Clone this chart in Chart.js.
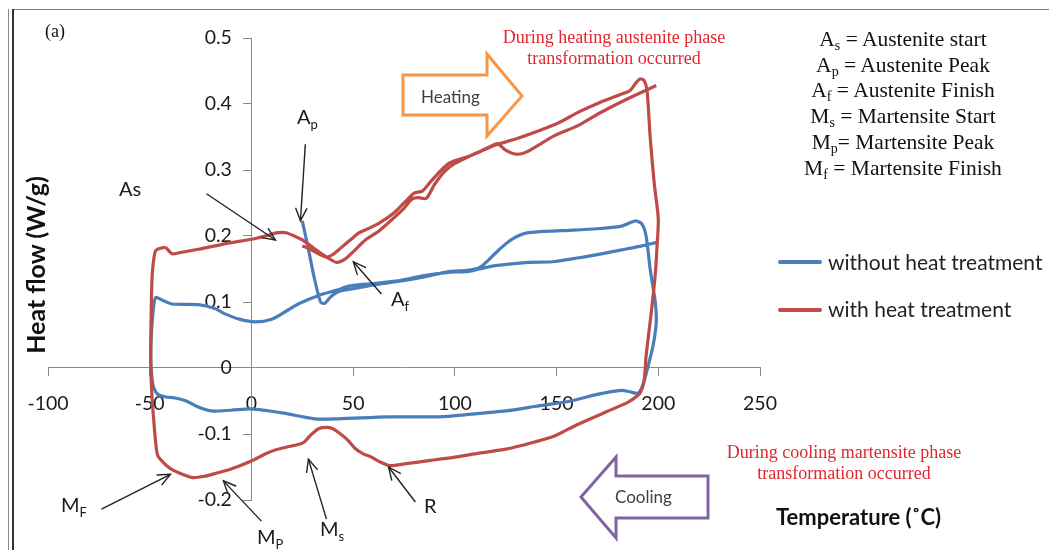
<!DOCTYPE html>
<html>
<head>
<meta charset="utf-8">
<script src="https://cdn.jsdelivr.net/npm/chart.js@4.4.1/dist/chart.umd.min.js"></script>
<style>
  html, body { margin:0; padding:0; background:#fff; }
  #wrap { position:relative; width:1049px; height:550px; overflow:hidden; background:#fff; }
  #c { position:absolute; left:0; top:0; }
  .t { position:absolute; white-space:nowrap; }
  .lab { font-family: Lato, "Open Sans", sans-serif; font-size:20px; color:#1a1a1a; }
  .lab sub { font-size:13px; vertical-align:-5px; line-height:0; }
  .serif { font-family: "Liberation Serif", "DejaVu Serif", serif; }
  .red { color:#e3262d; font-size:18px; text-align:center; line-height:21px; }
  .defs { font-size:21.5px; color:#111; text-align:center; line-height:25.7px; }
  .defs sub { font-size:14px; vertical-align:-4px; line-height:0; }
  .leg { font-family: Lato, sans-serif; font-size:21px; color:#222; }
  .legline { position:absolute; width:44px; height:4px; border-radius:2px; }
  .ttl { font-family: Lato, sans-serif; font-weight:bold; color:#111; }
</style>
</head>
<body>
<div id="wrap">
  <!-- outer frame -->
  <div style="position:absolute;left:12px;top:9px;width:1037px;height:1px;background:#7a7a7a"></div>
  <div style="position:absolute;left:8px;top:9px;width:1px;height:541px;background:#8a8a8a"></div>
  <div style="position:absolute;left:12px;top:9px;width:2px;height:541px;background:#333"></div>

  <canvas id="c" width="1049" height="550"></canvas>

  <svg width="1049" height="550" style="position:absolute;left:0;top:0;pointer-events:none">
    <polygon points="403,75 487,75 487,54 522,96 487,136 487,115 403,115" fill="#fff" stroke="#F79646" stroke-width="3" stroke-linejoin="miter"/>
    <polygon points="708,476 616,476 616,457 581,497 616,538 616,518 708,518" fill="#fff" stroke="#8064A2" stroke-width="3" stroke-linejoin="miter"/>
  </svg>

  <div class="t lab" style="left:421px;top:86px;font-size:17px;color:#404040">Heating</div>
  <div class="t lab" style="left:615px;top:486px;font-size:17px;color:#404040">Cooling</div>

  <div class="t serif" style="left:45px;top:21px;font-size:18px;color:#111">(a)</div>

  <div class="t serif red" style="left:474px;top:27px;width:280px">During heating austenite phase<br>transformation occurred</div>
  <div class="t serif red" style="left:704px;top:442px;width:280px">During cooling martensite phase<br>transformation occurred</div>

  <div class="t serif defs" style="left:758px;top:27px;width:290px">
    A<sub>s</sub> = Austenite start<br>
    A<sub>p</sub> = Austenite Peak<br>
    A<sub>f</sub> = Austenite Finish<br>
    M<sub>s</sub> = Martensite Start<br>
    M<sub>p</sub>= Martensite Peak<br>
    M<sub>f</sub> = Martensite Finish
  </div>

  <div class="legline" style="left:778px;top:260px;background:#4A7EBB"></div>
  <div class="t leg" style="left:828px;top:249px">without heat treatment</div>
  <div class="legline" style="left:778px;top:308px;background:#BE4B48"></div>
  <div class="t leg" style="left:828px;top:296px">with heat treatment</div>

  <div class="t lab" style="left:119px;top:176px">As</div>
  <div class="t lab" style="left:297px;top:104px">A<sub>p</sub></div>
  <div class="t lab" style="left:391px;top:286px">A<sub>f</sub></div>
  <div class="t lab" style="left:61px;top:492px">M<sub>F</sub></div>
  <div class="t lab" style="left:257px;top:524px">M<sub>P</sub></div>
  <div class="t lab" style="left:320px;top:516px">M<sub>s</sub></div>
  <div class="t lab" style="left:424px;top:493px">R</div>

  <div class="t ttl" style="left:776px;top:503px;font-size:22px">Temperature (˚C)</div>
  <div class="t ttl" style="left:-65px;top:250px;width:200px;text-align:center;font-size:25px;transform:rotate(-90deg)">Heat flow (W/g)</div>
</div>

<script>
// ---- data (Temperature °C, Heat flow W/g) ----
const blueT = [25, 28, 31, 34, 36, 39, 43, 50, 60, 72, 85, 97, 106, 112,
  117, 122, 128, 136, 152, 170, 182, 186, 189, 192, 194, 196, 198.5, 199, 197.5, 195, 192.5, 190,
  186, 182, 170, 157, 140, 125, 108, 92, 67, 43, 31, 15, 0, -10, -20, -27, -32, -38, -42, -46, -48, -49, -49.5,
  -49, -48, -47, -44, -39, -26, -18, -13, -6, 2, 10, 17, 23, 33, 42, 48, 60, 72, 85, 97, 106, 112,
  120, 136, 148, 161, 172, 182, 192, 199];
const blueV = [0.223, 0.18, 0.135, 0.1, 0.098, 0.108, 0.116, 0.12, 0.126, 0.131, 0.138, 0.146, 0.148, 0.152,
  0.165, 0.18, 0.195, 0.205, 0.208, 0.211, 0.215, 0.22, 0.223, 0.218, 0.2, 0.15, 0.1, 0.07, 0.035, 0.003, -0.025, -0.038,
  -0.036, -0.034, -0.04, -0.05, -0.058, -0.065, -0.07, -0.074, -0.074, -0.077, -0.077, -0.068, -0.062, -0.064, -0.065, -0.058, -0.05, -0.045, -0.044, -0.04, -0.03, -0.012, 0.02,
  0.06, 0.095, 0.107, 0.103, 0.097, 0.096, 0.09, 0.082, 0.074, 0.07, 0.074, 0.086, 0.097, 0.11, 0.118, 0.124, 0.128, 0.132, 0.14, 0.145, 0.146, 0.15,
  0.155, 0.16, 0.161, 0.167, 0.173, 0.179, 0.185, 0.19];

const redT = [25, 29, 33, 37, 40, 44, 49, 53, 58, 63, 70, 75, 80, 84, 88, 97, 108, 120, 131, 150, 161, 171, 182, 186, 189, 191, 193, 194.5,
  196, 198, 200, 199.3, 198.6, 197.3, 196, 194, 193, 191, 188, 185, 174, 160, 149, 137, 125, 112, 100, 88, 76, 68, 63, 59, 55, 51, 47, 43, 40, 37, 33, 29, 26, 23, 17, 12, 7, 0,
  -10, -18, -23, -29, -33, -37, -40, -43, -46, -47, -48, -49, -49.5, -49.3, -48.8, -48, -47, -44, -42, -39, -35, -26, -10, 0, 8, 13, 17, 21, 25, 30, 34, 38, 42, 46, 50, 56, 62, 68, 75, 79, 82, 86, 90, 95, 100, 110, 117, 121, 125, 130, 135, 149, 161, 171, 185, 199];
const redV = [0.185, 0.18, 0.173, 0.168, 0.172, 0.182, 0.195, 0.205, 0.212, 0.22, 0.235, 0.25, 0.265, 0.268, 0.282, 0.31, 0.322, 0.338, 0.348, 0.37, 0.388, 0.402, 0.415, 0.42, 0.432, 0.438, 0.436, 0.42,
  0.35, 0.28, 0.226, 0.18, 0.145, 0.105, 0.07, 0.018, -0.02, -0.038, -0.046, -0.052, -0.067, -0.086, -0.103, -0.114, -0.123, -0.129, -0.135, -0.14, -0.145, -0.148, -0.142, -0.135, -0.13, -0.122, -0.108, -0.098, -0.092, -0.09, -0.092, -0.102, -0.112, -0.116, -0.12, -0.124, -0.13, -0.141,
  -0.153, -0.16, -0.164, -0.166, -0.162, -0.157, -0.152, -0.144, -0.133, -0.115, -0.08, -0.037, 0.01, 0.08, 0.14, 0.165, 0.178, 0.182, 0.182, 0.173, 0.175, 0.18, 0.19, 0.195, 0.201, 0.205, 0.205, 0.2, 0.194, 0.183, 0.174, 0.166, 0.16, 0.165, 0.176, 0.194, 0.206, 0.222, 0.242, 0.256, 0.258, 0.257, 0.278, 0.298, 0.31, 0.325, 0.335, 0.34, 0.33, 0.324, 0.327, 0.352, 0.368, 0.386, 0.408, 0.428];

const xTicks = [-100, -50, 0, 50, 100, 150, 200, 250];
const yTicks = [-0.2, -0.1, 0, 0.1, 0.2, 0.3, 0.4, 0.5];

// annotation arrows: [fromT, fromV, toT, toV]
const arrowsData = [
  [-22.1, 0.264, 11.8, 0.194],   // As
  [26.5, 0.339, 24.1, 0.223],    // Ap
  [63.9, 0.112, 50.1, 0.161],    // Af
  [-73.7, -0.214, -39.8, -0.161],// MF
  [4.9, -0.232, -13.8, -0.171],  // MP
  [36.9, -0.229, 28.0, -0.138],  // Ms
  [80.6, -0.203, 67.4, -0.150]   // R
];

const toPts = (T, V) => T.map((t, i) => ({x: t, y: V[i]}));

const arrowPlugin = {
  id: 'arrows',
  afterDatasetsDraw(chart) {
    const {ctx, scales: {x, y}} = chart;
    ctx.save();
    ctx.strokeStyle = '#222';
    ctx.lineWidth = 1.4;
    arrowsData.forEach(([t0, v0, t1, v1]) => {
      const x0 = x.getPixelForValue(t0), y0 = y.getPixelForValue(v0);
      const x1 = x.getPixelForValue(t1), y1 = y.getPixelForValue(v1);
      ctx.beginPath(); ctx.moveTo(x0, y0); ctx.lineTo(x1, y1); ctx.stroke();
      const a = Math.atan2(y1 - y0, x1 - x0), L = 14, w = 0.42;
      ctx.beginPath();
      ctx.moveTo(x1 - L * Math.cos(a - w), y1 - L * Math.sin(a - w));
      ctx.lineTo(x1, y1);
      ctx.lineTo(x1 - L * Math.cos(a + w), y1 - L * Math.sin(a + w));
      ctx.stroke();
    });
    ctx.restore();
  }
};

const axisColor = '#8a8a8a';
const tickFont = {family: 'Lato, sans-serif', size: 19.5};

new Chart(document.getElementById('c'), {
  type: 'scatter',
  data: {
    datasets: [
      {label: 'without heat treatment', data: toPts(blueT, blueV), showLine: true,
       borderColor: '#4A7EBB', borderWidth: 3.2, pointRadius: 0, tension: 0.25, order: 2},
      {label: 'with heat treatment', data: toPts(redT, redV), showLine: true,
       borderColor: '#BE4B48', borderWidth: 3.2, pointRadius: 0, tension: 0.25, order: 1}
    ]
  },
  options: {
    responsive: false,
    animation: false,
    layout: {padding: {left: 48, right: 289, top: 38, bottom: 50}},
    plugins: {legend: {display: false}, tooltip: {enabled: false}},
    scales: {
      x: {
        type: 'linear', min: -100, max: 250,
        position: {y: 0},
        afterFit: s => { s.height = 0; },
        afterBuildTicks: s => { s.ticks = xTicks.map(v => ({value: v})); },
        border: {color: axisColor, width: 1},
        grid: {drawOnChartArea: false, drawTicks: true, tickLength: 8, color: axisColor},
        ticks: {font: tickFont, color: '#1a1a1a', padding: 16, maxRotation: 0, autoSkip: false}
      },
      y: {
        type: 'linear', min: -0.2, max: 0.5,
        position: {x: 0},
        afterFit: s => { s.width = 0; },
        afterBuildTicks: s => { s.ticks = yTicks.map(v => ({value: v})); },
        border: {color: axisColor, width: 1},
        grid: {drawOnChartArea: false, drawTicks: true, tickLength: 8, color: axisColor},
        ticks: {font: tickFont, color: '#1a1a1a', padding: 12, labelOffset: 0,
                callback: v => String(Math.round(v * 10) / 10) + '\u2002\u2002'}
      }
    }
  },
  plugins: [arrowPlugin]
});
</script>
</body>
</html>
